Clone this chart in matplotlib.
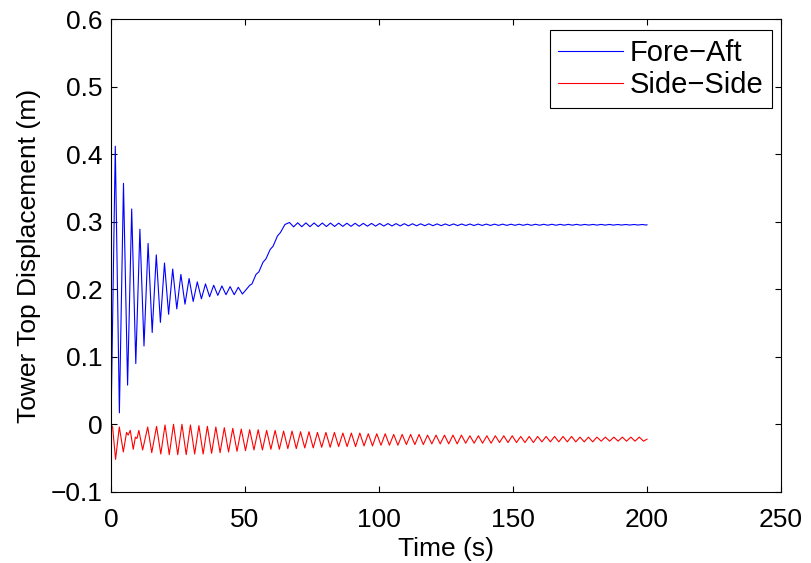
import numpy as np
import matplotlib
matplotlib.use('Agg')
import matplotlib.pyplot as plt

# 读图得到的数据：塔顶位移（极值点）
# Fore-Aft：起始段衰减振荡（峰/谷值）
fa_first = (0.0, 0.0)
fa_peaks = [0.412, 0.357, 0.319, 0.289, 0.268, 0.251, 0.239, 0.230,
            0.222, 0.216, 0.211, 0.208, 0.206, 0.205, 0.204, 0.203]
fa_troughs = [0.017, 0.058, 0.090, 0.116, 0.136, 0.151, 0.163, 0.171,
              0.178, 0.182, 0.186, 0.189, 0.191, 0.192, 0.192, 0.193]
fa_osc_t0, fa_half = 1.6, 1.53
# 爬升段
fa_ramp_t = [50.5, 51.8, 52.6, 54.1, 55.2, 56.7, 57.8, 59.4, 60.5, 62.1, 63.2, 64.9]
fa_ramp_v = [0.200, 0.206, 0.208, 0.222, 0.226, 0.240, 0.245, 0.259, 0.264, 0.279, 0.284, 0.296]
# 稳态段
fa_tail_t0 = 66.6
fa_tail_hi = [0.2990, 0.2985, 0.2984, 0.2983, 0.2982, 0.2981, 0.2980, 0.2979, 0.2978, 0.2977,
              0.2976, 0.2975, 0.2974, 0.2973, 0.2972, 0.2971, 0.2970, 0.2970, 0.2969, 0.2968,
              0.2968, 0.2967, 0.2967, 0.2966, 0.2966, 0.2965, 0.2965, 0.2964, 0.2964, 0.2964,
              0.2963, 0.2963, 0.2963, 0.2962, 0.2962, 0.2962, 0.2961, 0.2961, 0.2961, 0.2961,
              0.2960, 0.2960, 0.2960, 0.2960]
fa_tail_lo = [0.2925, 0.2927, 0.2928, 0.2929, 0.2930, 0.2931, 0.2932, 0.2933, 0.2934, 0.2935,
              0.2936, 0.2937, 0.2938, 0.2939, 0.2940, 0.2941, 0.2942, 0.2942, 0.2943, 0.2944,
              0.2944, 0.2945, 0.2945, 0.2946, 0.2946, 0.2947, 0.2947, 0.2948, 0.2948, 0.2948,
              0.2949, 0.2949, 0.2949, 0.2950, 0.2950, 0.2950, 0.2951, 0.2951, 0.2951, 0.2951,
              0.2952, 0.2952, 0.2952, 0.2952]
fa_end = (200.0, 0.2956)

# Side-Side：起始不规则段
ss_start_t = [0.0, 0.6, 1.7, 3.1, 4.6, 5.8, 6.4, 7.2, 8.3, 9.1, 9.7, 10.4, 11.8, 13.7, 15.2]
ss_start_v = [0.0, -0.004, -0.052, -0.004, -0.041, -0.012, -0.016, -0.009, -0.037,
              -0.019, -0.021, -0.009, -0.038, -0.004, -0.042]
ss_osc_t0, ss_half = 17.0, 1.58
ss_peaks = [-0.003, -0.001, 0.000, 0.000, -0.001, -0.002, -0.003, -0.004, -0.005, -0.006,
            -0.007, -0.008, -0.008, -0.009, -0.009, -0.010, -0.010, -0.011, -0.011, -0.012,
            -0.012, -0.012, -0.013, -0.013, -0.013, -0.014, -0.014, -0.014, -0.015, -0.015,
            -0.015, -0.015, -0.016, -0.016, -0.016, -0.016, -0.016, -0.017, -0.017, -0.017,
            -0.017, -0.017, -0.017, -0.018, -0.018, -0.018, -0.018, -0.018, -0.018, -0.018,
            -0.019, -0.019, -0.019, -0.019, -0.019, -0.019, -0.019, -0.019]
ss_troughs = [-0.044, -0.045, -0.045, -0.045, -0.044, -0.044, -0.043, -0.042, -0.041, -0.040,
              -0.039, -0.038, -0.038, -0.037, -0.037, -0.036, -0.036, -0.035, -0.035, -0.034,
              -0.034, -0.033, -0.033, -0.033, -0.032, -0.032, -0.031, -0.031, -0.031, -0.030,
              -0.030, -0.030, -0.029, -0.029, -0.029, -0.029, -0.028, -0.028, -0.028, -0.028,
              -0.027, -0.027, -0.027, -0.027, -0.027, -0.026, -0.026, -0.026, -0.026, -0.026,
              -0.026, -0.026, -0.025, -0.025, -0.025, -0.025, -0.025, -0.025]
ss_end = (200.0, -0.022)

xticks = [0, 50, 100, 150, 200, 250]
yticks = [-0.1, 0, 0.1, 0.2, 0.3, 0.4, 0.5, 0.6]
ytick_labels = ['\u22120.1', '0', '0.1', '0.2', '0.3', '0.4', '0.5', '0.6']


def interleave(a, b):
    return np.column_stack((a, b)).ravel()


# 拼接 Fore-Aft
osc_v = interleave(fa_peaks, fa_troughs)
osc_t = fa_osc_t0 + fa_half * np.arange(len(osc_v))
tail_v = interleave(fa_tail_hi, fa_tail_lo)
tail_t = fa_tail_t0 + fa_half * np.arange(len(tail_v))
fa_t = np.concatenate([[fa_first[0]], osc_t, fa_ramp_t, tail_t, [fa_end[0]]])
fa_v = np.concatenate([[fa_first[1]], osc_v, fa_ramp_v, tail_v, [fa_end[1]]])

# 拼接 Side-Side
ss_v_osc = interleave(ss_peaks, ss_troughs)
ss_t_osc = ss_osc_t0 + ss_half * np.arange(len(ss_v_osc))
ss_t = np.concatenate([ss_start_t, ss_t_osc, [ss_end[0]]])
ss_v = np.concatenate([ss_start_v, ss_v_osc, [ss_end[1]]])

plt.rcParams['font.family'] = ['Liberation Sans', 'DejaVu Sans']
fs = 19

fig = plt.figure(figsize=(8.11, 5.63), dpi=100)
ax = fig.add_axes([111 / 811, 1 - 491.8 / 563, 670 / 811, 472.5 / 563])
ax.plot(fa_t, fa_v, color='#0000ff', lw=0.8, label='Fore\u2212Aft')
ax.plot(ss_t, ss_v, color='#ff0000', lw=0.8, label='Side\u2212Side')

ax.set_xlim(0, 250)
ax.set_ylim(-0.1, 0.6)
ax.set_xticks(xticks)
ax.set_xticklabels([str(v) for v in xticks])
ax.set_yticks(yticks)
ax.set_yticklabels(ytick_labels)
ax.tick_params(direction='in', length=4.5, width=0.8, labelsize=fs,
               top=True, right=True, pad=6, colors='black')
ax.tick_params(axis='x', pad=11.5)
for s in ax.spines.values():
    s.set_linewidth(0.8)
ax.set_xlabel('Time (s)', fontsize=fs, labelpad=3.5)
ax.set_ylabel('Tower Top Displacement (m)', fontsize=fs, labelpad=7)

leg = ax.legend(loc='upper right', bbox_to_anchor=(772.3 / 811, 1 - 30 / 563),
                bbox_transform=fig.transFigure, borderaxespad=0, fontsize=21,
                handlelength=2.2, handletextpad=0.25, labelspacing=0.15,
                borderpad=0.3, fancybox=False, framealpha=1)
leg.get_frame().set_edgecolor('black')
leg.get_frame().set_linewidth(0.8)

fig.savefig('out.png', dpi=100)
